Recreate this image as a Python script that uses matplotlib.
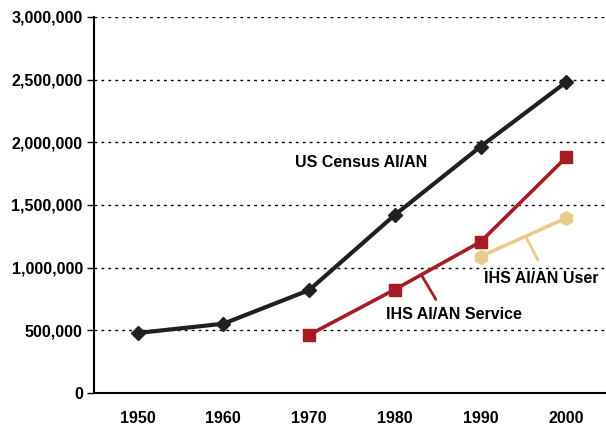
import matplotlib
matplotlib.use("Agg")
import matplotlib.pyplot as plt
from matplotlib.ticker import FuncFormatter

plt.rcParams["font.family"] = ["Liberation Sans", "DejaVu Sans"]
plt.rcParams["font.weight"] = "bold"

years = ["1950", "1960", "1970", "1980", "1990", "2000"]
census = [478000, 552000, 820000, 1420000, 1965000, 2480000]
service = [None, None, 463000, 825000, 1205000, 1880000]
user = [None, None, None, None, 1088000, 1395000]

BLACK = "#231f20"
RED = "#a51c24"
TAN = "#e8cd8a"

fig = plt.figure(figsize=(6.06, 4.28), dpi=100)
ax = fig.add_axes([0.155, 0.082, 0.843, 0.8785])

x = list(range(len(years)))


def pts(vals):
    xs = [i for i, v in zip(x, vals) if v is not None]
    ys = [v for v in vals if v is not None]
    return xs, ys


ax.plot(*pts(census), color=BLACK, lw=3.0, marker="D", ms=7, zorder=3)
ax.plot(*pts(service), color=RED, lw=2.6, marker="s", ms=9, zorder=3)
ax.plot(*pts(user), color=TAN, lw=2.6, marker="h", ms=10, zorder=3)

ax.set_xlim(-0.51, 5.45)
ax.set_ylim(0, 3000000)
ax.set_yticks(range(0, 3000001, 500000))
ax.yaxis.set_major_formatter(FuncFormatter(lambda v, p: f"{int(v):,}"))
ax.set_xticks(x)
ax.set_xticklabels(years)
ax.tick_params(axis="x", length=0, pad=13, labelsize=11.5)
ax.tick_params(axis="y", length=5, width=1, labelsize=11.5, pad=3)
ax.grid(axis="y", color="black", linestyle=(0, (2, 3)), lw=1)
ax.set_axisbelow(True)

for s in ["top", "right"]:
    ax.spines[s].set_visible(False)
ax.spines["left"].set_linewidth(1.5)
ax.spines["bottom"].set_linewidth(1.5)

# series labels with short leader lines
ax.text(2.61, 1835000, "US Census AI/AN", ha="center", va="center", fontsize=11.5)

ax.text(3.69, 622000, "IHS AI/AN Service", ha="center", va="center", fontsize=11.5)
ax.annotate("", xy=(3.32, 930000), xytext=(3.48, 745000),
            arrowprops=dict(arrowstyle="-", color=RED, lw=2, shrinkA=0, shrinkB=0))

ax.text(4.71, 915000, "IHS AI/AN User", ha="center", va="center", fontsize=11.5)
ax.annotate("", xy=(4.53, 1245000), xytext=(4.67, 1060000),
            arrowprops=dict(arrowstyle="-", color=TAN, lw=2, shrinkA=0, shrinkB=0))

fig.savefig("out.png", dpi=100)
